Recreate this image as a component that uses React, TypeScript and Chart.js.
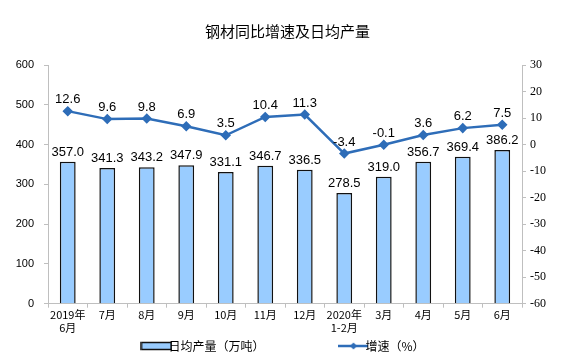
import React, { useEffect, useRef } from "react";
import { Chart, registerables } from "chart.js";

Chart.register(...registerables);

const categories: (string | string[])[] = [
  ["2019年", "6月"], "7月", "8月", "9月", "10月", "11月", "12月",
  ["2020年", "1-2月"], "3月", "4月", "5月", "6月",
];
const dailyOutput = [357.0, 341.3, 343.2, 347.9, 331.1, 346.7, 336.5, 278.5, 319.0, 356.7, 369.4, 386.2];
const growth = [12.6, 9.6, 9.8, 6.9, 3.5, 10.4, 11.3, -3.4, -0.1, 3.6, 6.2, 7.5];
const leftTicks = [0, 100, 200, 300, 400, 500, 600];
const rightTicks = [-60, -50, -40, -30, -20, -10, 0, 10, 20, 30];

const BAR_FILL = "#99CCFF";
const LINE_COLOR = "#2E6DB8";

function makeBarIcon() {
  const c = document.createElement("canvas");
  c.width = 32; c.height = 10;
  const g = c.getContext("2d")!;
  g.fillStyle = BAR_FILL;
  g.fillRect(1, 1, 30, 8);
  g.strokeStyle = "#111";
  g.lineWidth = 1.5;
  g.strokeRect(1, 1.5, 30, 7);
  return c;
}
function makeLineIcon() {
  const c = document.createElement("canvas");
  c.width = 30; c.height = 10;
  const g = c.getContext("2d")!;
  g.strokeStyle = LINE_COLOR;
  g.lineWidth = 2.5;
  g.beginPath(); g.moveTo(0, 5); g.lineTo(30, 5); g.stroke();
  g.fillStyle = LINE_COLOR;
  g.beginPath(); g.moveTo(15, 1.5); g.lineTo(18.5, 5); g.lineTo(15, 8.5); g.lineTo(11.5, 5); g.closePath(); g.fill();
  return c;
}

const labelPlugin = {
  id: "valueLabels",
  afterDatasetsDraw(chart: any) {
    const ctx = chart.ctx;
    ctx.save();
    ctx.font = "13px 'Liberation Sans', Arial, sans-serif";
    ctx.fillStyle = "#000";
    ctx.textAlign = "center";
    ctx.textBaseline = "bottom";
    const barMeta = chart.getDatasetMeta(0);
    barMeta.data.forEach((el: any, i: number) => {
      ctx.fillText(dailyOutput[i].toFixed(1), el.x, el.y - 3);
    });
    const lineMeta = chart.getDatasetMeta(1);
    lineMeta.data.forEach((el: any, i: number) => {
      ctx.fillText(growth[i].toFixed(1), el.x, el.y - 5);
    });
    ctx.restore();
  },
};

export default function App() {
  const ref = useRef<HTMLCanvasElement>(null);
  useEffect(() => {
    const barIcon = makeBarIcon();
    const lineIcon = makeLineIcon();
    const chart = new Chart(ref.current!, {
      type: "bar",
      data: {
        labels: categories,
        datasets: [
          {
            type: "bar",
            label: "日均产量（万吨）",
            data: dailyOutput,
            backgroundColor: BAR_FILL,
            borderColor: "#111",
            borderWidth: 1.5,
            barPercentage: 0.4,
            categoryPercentage: 1,
            yAxisID: "y",
            order: 2,
          },
          {
            type: "line",
            label: "增速（%）",
            data: growth,
            borderColor: LINE_COLOR,
            backgroundColor: LINE_COLOR,
            borderWidth: 2.5,
            pointStyle: "rectRot",
            pointRadius: 3.5,
            yAxisID: "y1",
            order: 1,
          },
        ],
      },
      options: {
        animation: false,
        responsive: false,
        maintainAspectRatio: false,
        layout: { padding: { left: 0, right: 0, top: 0, bottom: 0 } },
        plugins: {
          title: {
            display: true,
            text: "钢材同比增速及日均产量",
            color: "#000",
            font: { size: 15, family: "'Noto Sans CJK SC', sans-serif", weight: "normal" },
            padding: { top: 22, bottom: 25 },
          },
          legend: {
            position: "bottom",
            labels: {
              usePointStyle: true,
              padding: 5,
              color: "#000",
              font: { size: 12, family: "'Noto Sans CJK SC', sans-serif" },
              generateLabels(chart: any) {
                const items = Chart.defaults.plugins.legend.labels.generateLabels(chart);
                items.sort((a: any, b: any) => a.datasetIndex - b.datasetIndex);
                items.forEach((it: any) => {
                  if (it.datasetIndex === 0) {
                    it.pointStyle = barIcon;
                    it.text = it.text + "\u3000\u3000\u3000\u3000\u3000\u3000\u3000";
                  } else {
                    it.pointStyle = lineIcon;
                  }
                });
                return items;
              },
            },
          },
          tooltip: { enabled: false },
        },
        scales: {
          x: {
            offset: true,
            grid: { display: true, drawOnChartArea: false, offset: true, color: "#bfbfbf", tickLength: 4 },
            border: { color: "#bfbfbf" },
            ticks: {
              color: "#000",
              font: { size: 11, family: "'Noto Sans CJK SC', sans-serif", lineHeight: 1.15 },
              maxRotation: 0,
              autoSkip: false,
              padding: 1,
            },
          },
          y: {
            position: "left",
            min: 0,
            max: 600,
            afterBuildTicks(scale: any) { scale.ticks = leftTicks.map((v) => ({ value: v })); },
            afterFit(scale: any) { scale.width = 48; },
            grid: { display: true, drawOnChartArea: false, color: "#bfbfbf", tickLength: 4 },
            border: { color: "#bfbfbf" },
            ticks: { color: "#000", padding: 10, autoSkip: false, font: { size: 11, family: "'Liberation Sans', Arial, sans-serif" } },
          },
          y1: {
            position: "right",
            min: -60,
            max: 30,
            afterBuildTicks(scale: any) { scale.ticks = rightTicks.map((v) => ({ value: v })); },
            afterFit(scale: any) { scale.width = 53; },
            grid: { display: true, drawOnChartArea: false, color: "#bfbfbf", tickLength: 4 },
            border: { color: "#bfbfbf" },
            ticks: { color: "#000", padding: 4, autoSkip: false, font: { size: 12, family: "'Liberation Serif', serif" } },
          },
        },
      },
      plugins: [labelPlugin],
    });
    return () => chart.destroy();
  }, []);
  return (
    <div style={{ position: "absolute", left: 0, top: 0, width: 575, height: 362 }}>
      <canvas ref={ref} width={575} height={362} />
    </div>
  );
}
